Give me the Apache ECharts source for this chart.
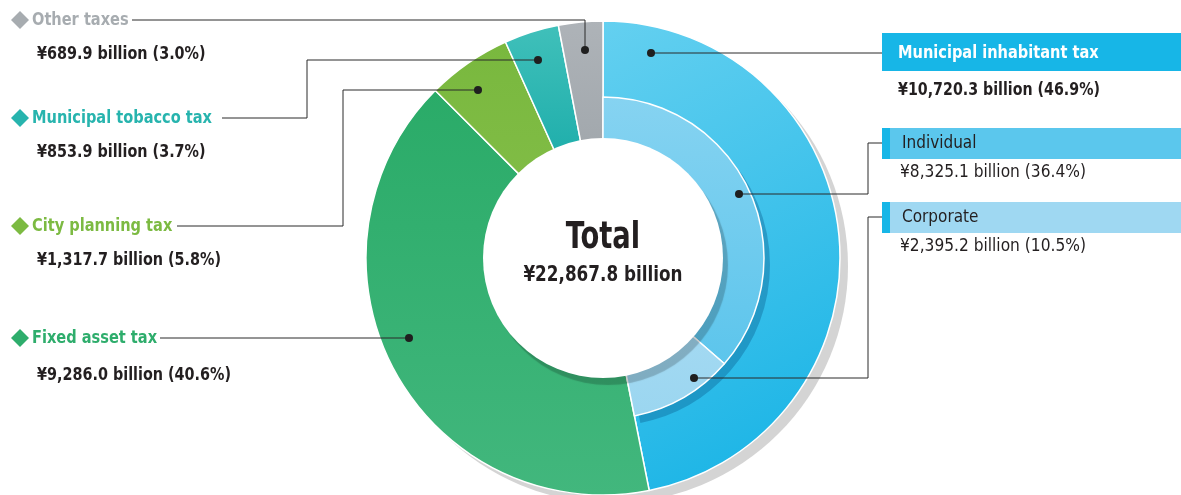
<!DOCTYPE html>
<html>
<head>
<meta charset="utf-8">
<script src="https://cdn.jsdelivr.net/npm/echarts@6/dist/echarts.min.js"></script>
<style>
  html, body { margin: 0; padding: 0; background: #fff; }
  #main { width: 1181px; height: 495px; }
</style>
</head>
<body>
<div id="main"></div>
<script>
// 外环：税目
var outerNames = ['Municipal inhabitant tax', 'Fixed asset tax', 'City planning tax', 'Municipal tobacco tax', 'Other taxes'];
var outerValues = [10720.3, 9286.0, 1317.7, 853.9, 689.9];
var outerShares = [46.9, 40.6, 5.8, 3.7, 3.0];
// 内环：住民税内訳
var innerNames = ['Individual', 'Corporate'];
var innerValues = [8325.1, 2395.2];
var innerShares = [36.4, 10.5];
var totalValue = 22867.8;

var FONT = "'DejaVu Sans Condensed', 'DejaVu Sans', sans-serif";
var DARK = '#231f20';
var CX = 603, CY = 258;

function grad(c1, c2, diag) {
    return {
        type: 'linear', x: 0, y: 0, x2: diag ? 1 : 0, y2: 1,
        colorStops: [{ offset: 0, color: c1 }, { offset: 1, color: c2 }]
    };
}
function money(v, share) {
    return '¥' + v.toLocaleString('en-US', { minimumFractionDigits: 1, maximumFractionDigits: 1 }) +
        ' billion (' + share.toFixed(1) + '%)';
}
// 横向压缩的文字（模拟窄体字）
function txt(x, y, str, font, fill, sx, align) {
    return {
        type: 'text', z: 101, x: x, y: y, scaleX: sx,
        style: { x: 0, y: 0, text: str, font: font, fill: fill, align: align || 'left', verticalAlign: 'middle' }
    };
}

var outerColors = [
    grad('#64d0f0', '#14b2e5', true),
    grad('#2aab68', '#42b77d'),
    grad('#79b83e', '#80bc45'),
    grad('#40c0ba', '#20afac'),
    grad('#aeb3b8', '#a2a8ad')
];
var innerColors = [grad('#86d3f1', '#5cc5ec'), grad('#a3d9f2', '#9bd6f0')];
var labelColors = ['#17b6e7', '#2ead6c', '#7cba42', '#27b4ae', '#a7acb0'];

var outerData = outerValues.map(function (v, i) {
    return { name: outerNames[i], value: v, itemStyle: { color: outerColors[i] } };
});
var restValue = totalValue - innerValues[0] - innerValues[1];
function innerRing(colorFn) {
    var d = innerValues.map(function (v, i) {
        return { name: innerNames[i], value: v, itemStyle: { color: colorFn(i) } };
    });
    // 内环剩余部分（透明）
    d.push({ name: 'rest', value: restValue, itemStyle: { color: 'rgba(0,0,0,0)', borderWidth: 0 } });
    return d;
}

var base = {
    type: 'pie', center: [CX, CY], startAngle: 90, clockwise: true,
    silent: true, animation: false, label: { show: false }, labelLine: { show: false },
    emphasis: { disabled: true }
};

// 引线 + 圆点
var leaders = [
    [[585, 50], [585, 20], [132, 20]],
    [[538, 60], [307, 60], [307, 118], [222, 118]],
    [[478, 90], [343, 90], [343, 226], [177, 226]],
    [[409, 338], [160, 338]],
    [[651, 53], [882, 53]],
    [[739, 194], [868, 194], [868, 143], [882, 143]],
    [[694, 378], [868, 378], [868, 217], [882, 217]]
];

var graphics = [];
leaders.forEach(function (pts) {
    graphics.push({ type: 'polyline', z: 100, shape: { points: pts }, style: { stroke: '#2a2a2a', lineWidth: 1, fill: null } });
    graphics.push({ type: 'circle', z: 101, shape: { cx: pts[0][0], cy: pts[0][1], r: 4 }, style: { fill: '#1f1f1f' } });
});

// 左侧标签
var leftIdx = [4, 3, 2, 1];
var leftY = [20, 118, 226, 338];
var leftValY = [55, 153, 261, 376];
leftIdx.forEach(function (k, j) {
    var y = leftY[j];
    graphics.push({ type: 'polygon', z: 100, shape: { points: [[20, y - 9], [29, y], [20, y + 9], [11, y]] }, style: { fill: labelColors[k] } });
    graphics.push(txt(32, y, outerNames[k], 'bold 18px ' + FONT, labelColors[k], 0.9));
    graphics.push(txt(37, leftValY[j], money(outerValues[k], outerShares[k]), 'bold 17px ' + FONT, DARK, 0.94));
});

// 右侧标签
graphics.push({ type: 'rect', z: 100, shape: { x: 882, y: 33, width: 299, height: 38 }, style: { fill: labelColors[0] } });
graphics.push(txt(898, 53, outerNames[0], 'bold 18px ' + FONT, '#fff', 0.9));
graphics.push(txt(898, 91, money(outerValues[0], outerShares[0]), 'bold 17px ' + FONT, DARK, 0.93));

var boxY = [128, 202];
var boxFill = ['#5bc7ed', '#9fd8f2'];
innerNames.forEach(function (n, i) {
    var y = boxY[i];
    graphics.push({ type: 'rect', z: 100, shape: { x: 882, y: y, width: 299, height: 31 }, style: { fill: boxFill[i] } });
    graphics.push({ type: 'rect', z: 101, shape: { x: 882, y: y, width: 8, height: 31 }, style: { fill: '#17b6e7' } });
    graphics.push(txt(902, y + 16, n, '17px ' + FONT, DARK, 1));
    graphics.push(txt(900, y + 45, money(innerValues[i], innerShares[i]), '17px ' + FONT, DARK, 1.01));
});

// 中心文字
graphics.push(txt(CX, 238, 'Total', 'bold 38px ' + FONT, DARK, 0.8, 'center'));
graphics.push(txt(CX, 275, '¥' + totalValue.toLocaleString('en-US', { minimumFractionDigits: 1 }) + ' billion', 'bold 22px ' + FONT, DARK, 0.85, 'center'));

var chart = echarts.init(document.getElementById('main'));
chart.setOption({
    animation: false,
    backgroundColor: '#fff',
    series: [
        // 外环阴影
        Object.assign({}, base, {
            z: 1, center: [CX + 8, CY + 8], radius: [0, 237],
            data: [{ name: 'shadow', value: totalValue, itemStyle: { color: '#d4d4d4' } }]
        }),
        // 外环
        Object.assign({}, base, {
            z: 2, radius: [118, 237],
            itemStyle: { borderColor: '#fff', borderWidth: 1.5 },
            data: outerData
        }),
        // 内环阴影
        Object.assign({}, base, {
            z: 3, center: [CX + 6, CY + 7], radius: [118, 161],
            itemStyle: { borderWidth: 0 },
            data: innerRing(function () { return 'rgba(0,70,120,0.3)'; })
        }),
        // 内环
        Object.assign({}, base, {
            z: 4, radius: [118, 161],
            itemStyle: { borderColor: '#fff', borderWidth: 1.5 },
            data: innerRing(function (i) { return innerColors[i]; })
        }),
        // 中心白圆
        Object.assign({}, base, {
            z: 5, radius: [0, 120],
            itemStyle: { color: '#fff', shadowBlur: 1, shadowOffsetX: 5, shadowOffsetY: 7, shadowColor: 'rgba(0,0,0,0.2)' },
            data: [{ name: 'hole', value: totalValue }]
        })
    ],
    graphic: graphics
});
</script>
</body>
</html>
